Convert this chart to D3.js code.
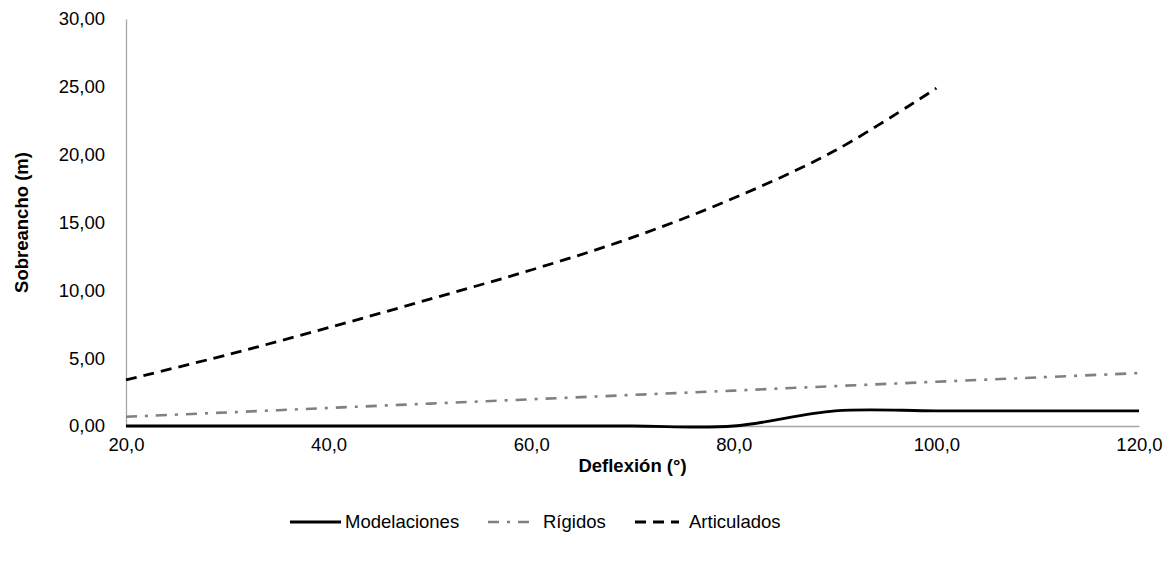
<!DOCTYPE html>
<html>
<head>
<meta charset="utf-8">
<script src="https://cdn.jsdelivr.net/npm/d3@7"></script>
<style>
  html, body { margin: 0; padding: 0; background: #fff; }
  svg { display: block; font-family: "Liberation Sans", Arial, sans-serif; }
</style>
</head>
<body>
<svg id="chart" width="1175" height="567"></svg>
<script>
// ---- data ----
const xTicks = [20, 40, 60, 80, 100, 120];
const yTicks = [0, 5, 10, 15, 20, 25, 30];

const modelX = [20, 30, 40, 50, 60, 70, 80, 90, 100, 110, 120];
const modelY = [0, 0, 0, 0, 0, 0, 0, 1.12, 1.12, 1.12, 1.12];

const rigidX = [20, 30, 40, 50, 60, 70, 80, 90, 100, 110, 120];
const rigidY = [0.68, 1.0, 1.33, 1.65, 1.97, 2.29, 2.61, 2.94, 3.26, 3.58, 3.9];

const articX = [20, 30, 40, 50, 60, 70, 80, 90, 100];
const articY = [3.4, 5.25, 7.25, 9.35, 11.5, 13.9, 16.8, 20.3, 24.9];

const seriesNames = ["Modelaciones", "Rígidos", "Articulados"];

// ---- chart ----
const svg = d3.select("#chart");
const x = d3.scaleLinear().domain([20, 120]).range([126, 1139]);
const y = d3.scaleLinear().domain([0, 30]).range([426, 19]);
const fmt1 = d => d.toFixed(1).replace(".", ",");
const fmt2 = d => d.toFixed(2).replace(".", ",");

// axes
const xAxis = svg.append("g").attr("transform", `translate(0,${y(0)})`)
  .call(d3.axisBottom(x).tickValues(xTicks).tickFormat(fmt1).tickSize(0).tickPadding(12));
const yAxis = svg.append("g").attr("transform", `translate(${x(20)},0)`)
  .call(d3.axisLeft(y).tickValues(yTicks).tickFormat(fmt2).tickSize(0).tickPadding(21));
[xAxis, yAxis].forEach(a => {
  a.select(".domain").attr("stroke", "#a6a6a6").attr("stroke-width", 1.3);
  a.selectAll("text").attr("font-size", 18.5).attr("fill", "#000")
    .attr("font-family", "Liberation Sans, Arial, sans-serif");
});

// axis titles
svg.append("text").attr("x", (x(20) + x(120)) / 2).attr("y", 472)
  .attr("text-anchor", "middle").attr("font-size", 18.5).attr("font-weight", "bold")
  .text("Deflexión (°)");
svg.append("text").attr("transform", `translate(28,${(y(0) + y(30)) / 2}) rotate(-90)`)
  .attr("text-anchor", "middle").attr("font-size", 18.5).attr("font-weight", "bold")
  .text("Sobreancho (m)");

const curve = d3.curveCatmullRom.alpha(0);
const line = d3.line().x(d => x(d[0])).y(d => y(d[1])).curve(curve);
const styles = [
  { stroke: "#000", width: 2.8, dash: null },
  { stroke: "#808080", width: 2.6, dash: "11,8,3,8" },
  { stroke: "#000", width: 2.8, dash: "11,7" }
];
const data = [
  d3.zip(modelX, modelY),
  d3.zip(rigidX, rigidY),
  d3.zip(articX, articY)
];
[1, 2, 0].forEach(i => {
  svg.append("path").datum(data[i]).attr("d", line)
    .attr("fill", "none").attr("stroke", styles[i].stroke)
    .attr("stroke-width", styles[i].width)
    .attr("stroke-dasharray", styles[i].dash);
});

// legend
const legendY = 522;
const legendItems = [
  { x1: 290, x2: 341, tx: 345 },
  { x1: 488, x2: 533, tx: 543 },
  { x1: 635, x2: 679, tx: 689 }
];
legendItems.forEach((it, i) => {
  svg.append("line").attr("x1", it.x1).attr("x2", it.x2)
    .attr("y1", legendY).attr("y2", legendY)
    .attr("stroke", styles[i].stroke).attr("stroke-width", styles[i].width)
    .attr("stroke-dasharray", styles[i].dash);
  svg.append("text").attr("x", it.tx).attr("y", legendY).attr("dy", "0.35em")
    .attr("font-size", 18.5).text(seriesNames[i]);
});
</script>
</body>
</html>
